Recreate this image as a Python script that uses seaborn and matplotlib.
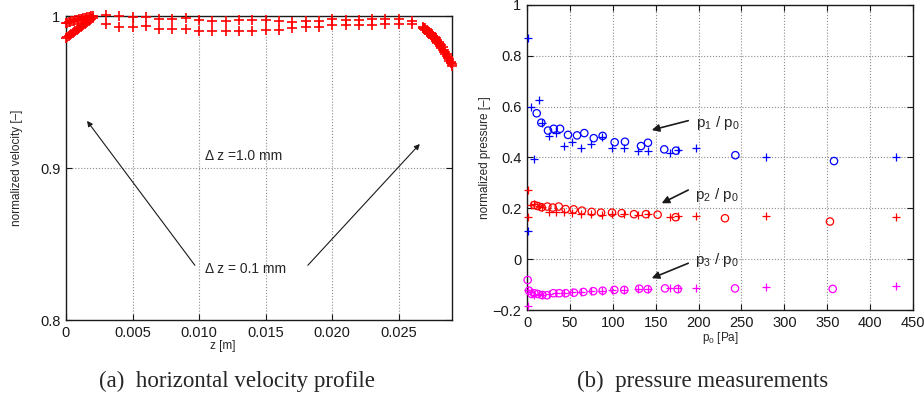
import matplotlib
matplotlib.use("Agg")
import matplotlib.pyplot as plt
import seaborn as sns

sns.set_theme(style="ticks")
plt.rcParams['font.family'] = ['Liberation Sans', 'DejaVu Sans']
plt.rcParams['mathtext.fontset'] = 'custom'
plt.rcParams['mathtext.rm'] = 'Liberation Sans'
plt.rcParams['mathtext.it'] = 'Liberation Sans:italic'

# -----------------------------
# (a) velocity profile data
# -----------------------------
z_coarse = [0.003, 0.004, 0.005, 0.006, 0.007, 0.008, 0.009, 0.010, 0.011, 0.012,
            0.013, 0.014, 0.015, 0.016, 0.017, 0.018, 0.019, 0.020, 0.021, 0.022,
            0.023, 0.024, 0.025, 0.026]
v_coarse_a = [1.0005, 1.0000, 0.9993, 0.9993, 0.9980, 0.9980, 0.9987, 0.9976, 0.9970, 0.9970,
              0.9976, 0.9972, 0.9976, 0.9965, 0.9958, 0.9965, 0.9970, 0.9980, 0.9976, 0.9976,
              0.9980, 0.9980, 0.9980, 0.9965]
v_coarse_b = [0.9949, 0.9928, 0.9926, 0.9932, 0.9917, 0.9917, 0.9917, 0.9904, 0.9904, 0.9904,
              0.9904, 0.9900, 0.9910, 0.9910, 0.9920, 0.9928, 0.9928, 0.9943, 0.9943, 0.9943,
              0.9943, 0.9950, 0.9950, 0.9950]

z_wall_left = [0.0000, 0.0001, 0.0002, 0.0003, 0.0004, 0.0005, 0.0006, 0.0007, 0.0008, 0.0009,
               0.0010, 0.0011, 0.0012, 0.0013, 0.0014, 0.0015, 0.0016, 0.0017, 0.0018, 0.0019,
               0.0020]
v_wall_left_a = [0.9955, 0.9957, 0.9959, 0.9962, 0.9964, 0.9967, 0.9969, 0.9971, 0.9973, 0.9976,
                 0.9978, 0.9980, 0.9982, 0.9985, 0.9987, 0.9989, 0.9991, 0.9993, 0.9996, 0.9998,
                 1.0000]
v_wall_left_b = [0.9858, 0.9864, 0.9871, 0.9877, 0.9884, 0.9891, 0.9897, 0.9903, 0.9910, 0.9917,
                 0.9923, 0.9929, 0.9936, 0.9942, 0.9949, 0.9955, 0.9961, 0.9968, 0.9974, 0.9980,
                 0.9986]

z_wall_right = [0.0268, 0.0269, 0.0270, 0.0271, 0.0272, 0.0273, 0.0274, 0.0275, 0.0276, 0.0277,
                0.0278, 0.0279, 0.0280, 0.0281, 0.0282, 0.0283, 0.0284, 0.0285, 0.0286, 0.0287,
                0.0288, 0.0289, 0.0290]
v_wall_right_a = [0.9930, 0.9924, 0.9918, 0.9911, 0.9904, 0.9897, 0.9889, 0.9880, 0.9871, 0.9862,
                  0.9852, 0.9842, 0.9831, 0.9819, 0.9806, 0.9793, 0.9779, 0.9764, 0.9749, 0.9733,
                  0.9716, 0.9699, 0.9681]
v_wall_right_b = [0.9918, 0.9912, 0.9905, 0.9898, 0.9890, 0.9882, 0.9874, 0.9865, 0.9856, 0.9846,
                  0.9836, 0.9825, 0.9814, 0.9802, 0.9790, 0.9777, 0.9764, 0.9750, 0.9736, 0.9721,
                  0.9706, 0.9690, 0.9674]

z_ticks = [0, 0.005, 0.010, 0.015, 0.020, 0.025]
z_labels = ["0", "0.005", "0.010", "0.015", "0.020", "0.025"]

# -----------------------------
# (b) pressure data
# -----------------------------
p0_plus = [1.5, 1.5, 4.7, 8.5, 14.0, 17.9, 25.6, 34.2, 42.7, 52.0, 63.3, 75.0, 87.4, 99.5,
           113.5, 129.0, 141.5, 167.0, 176.4, 197.0, 278.6, 430.0]
p1_plus = [0.869, 0.111, 0.598, 0.393, 0.626, 0.537, 0.485, 0.498, 0.447, 0.460, 0.436, 0.453,
           0.480, 0.439, 0.439, 0.427, 0.427, 0.416, 0.430, 0.436, 0.403, 0.401]
p2_plus = [0.272, 0.167, 0.213, 0.216, 0.210, 0.204, 0.187, 0.184, 0.184, 0.181, 0.177, 0.177,
           0.174, 0.177, 0.179, 0.174, 0.177, 0.166, 0.171, 0.171, 0.169, 0.165]
p3_plus = [-0.121, -0.184, -0.128, -0.140, -0.138, -0.140, -0.138, -0.134, -0.134, -0.130,
           -0.128, -0.126, -0.124, -0.122, -0.120, -0.117, -0.117, -0.115, -0.115, -0.115,
           -0.110, -0.106]

p0_o_1 = [11.3, 16.7, 24.5, 31.1, 38.5, 47.8, 58.3, 66.8, 77.8, 88.2, 102.2, 114.2, 132.9,
          141.0, 160.0, 173.7, 242.9, 357.9]
p1_o = [0.574, 0.537, 0.506, 0.513, 0.513, 0.489, 0.487, 0.496, 0.476, 0.485, 0.460, 0.462,
        0.445, 0.458, 0.432, 0.427, 0.409, 0.386]

p0_o_2 = [8.5, 12.4, 17.1, 23.7, 30.0, 37.0, 45.0, 54.4, 64.1, 75.4, 86.3, 99.1, 110.4, 124.7,
          138.7, 152.3, 173.3, 230.8, 353.2]
p2_o = [0.213, 0.209, 0.204, 0.207, 0.203, 0.207, 0.197, 0.196, 0.191, 0.186, 0.183, 0.183,
        0.181, 0.177, 0.177, 0.175, 0.165, 0.161, 0.148]

p0_o_3 = [0.8, 2.3, 5.4, 8.5, 12.4, 17.8, 23.3, 30.7, 37.7, 45.1, 54.8, 65.7, 77.3, 88.2,
          101.8, 113.4, 130.9, 140.7, 160.9, 175.7, 242.5, 356.4]
p3_o = [-0.082, -0.124, -0.137, -0.134, -0.137, -0.141, -0.142, -0.134, -0.134, -0.134, -0.132,
        -0.129, -0.126, -0.124, -0.121, -0.121, -0.116, -0.118, -0.115, -0.118, -0.115, -0.117]

p_xticks = [0, 50, 100, 150, 200, 250, 300, 350, 400, 450]
p_yticks = [-0.2, 0, 0.2, 0.4, 0.6, 0.8, 1]


def matlab_axes(ax):
    ax.grid(True, linestyle=':', color='0.55', linewidth=0.8)
    for s in ax.spines.values():
        s.set_visible(True)
        s.set_color('k')
        s.set_linewidth(1.0)
    ax.tick_params(direction='in', top=True, right=True, length=4, width=0.8,
                   labelsize=10.5, colors='k', pad=4)


fig = plt.figure(figsize=(9.24, 4.0), dpi=100)

# -----------------------------
# (a) horizontal velocity profile
# -----------------------------
ax1 = fig.add_axes([66 / 924, 80 / 400, 386 / 924, 304 / 400])
for zz, vv in [(z_coarse, v_coarse_a), (z_coarse, v_coarse_b),
               (z_wall_left, v_wall_left_a), (z_wall_left, v_wall_left_b),
               (z_wall_right, v_wall_right_a), (z_wall_right, v_wall_right_b)]:
    sns.scatterplot(x=zz, y=vv, ax=ax1, marker='+', color='red', s=60, linewidth=1.2,
                    clip_on=False, zorder=3)
ax1.set_xlim(0, 0.029)
ax1.set_ylim(0.8, 1.0)
ax1.set_xticks(z_ticks)
ax1.set_xticklabels(z_labels)
ax1.set_yticks([0.8, 0.9, 1.0])
ax1.set_yticklabels(["0.8", "0.9", "1"])
matlab_axes(ax1)
ax1.set_xlabel("z [m]", fontsize=8.5)
ax1.set_ylabel("normalized velocity [–]", fontsize=8.5)
ax1.xaxis.set_label_coords(0.407, -0.065)
ax1.yaxis.set_label_coords(-0.112, 0.5)

ax1.text(0.01044, 0.908, "Δ z =1.0 mm", fontsize=10, va='center', ha='left')
ax1.text(0.01044, 0.8336, "Δ z = 0.1 mm", fontsize=10, va='center', ha='left')
arr = dict(arrowstyle='-|>', lw=0.8, color='k', mutation_scale=8, shrinkA=0, shrinkB=0)
ax1.annotate("", xy=(0.00158, 0.931), xytext=(0.00968, 0.836), arrowprops=arr)
ax1.annotate("", xy=(0.02658, 0.9158), xytext=(0.01817, 0.836), arrowprops=arr)

# -----------------------------
# (b) pressure measurements
# -----------------------------
ax2 = fig.add_axes([527 / 924, 90 / 400, 386 / 924, 305 / 400])
series = [(p0_plus, p1_plus, '+', 'blue'), (p0_o_1, p1_o, 'o', 'blue'),
          (p0_plus, p2_plus, '+', 'red'), (p0_o_2, p2_o, 'o', 'red'),
          (p0_plus, p3_plus, '+', 'magenta'), (p0_o_3, p3_o, 'o', 'magenta')]
for xx, yy, mk, col in series:
    if mk == 'o':
        sns.scatterplot(x=xx, y=yy, ax=ax2, marker='o', facecolor='none', edgecolor=col,
                        s=28, linewidth=0.9, clip_on=False, zorder=3)
    else:
        sns.scatterplot(x=xx, y=yy, ax=ax2, marker='+', color=col, s=30, linewidth=0.9,
                        clip_on=False, zorder=3)
ax2.set_xlim(0, 450)
ax2.set_ylim(-0.2, 1.0)
ax2.set_xticks(p_xticks)
ax2.set_yticks(p_yticks)
ax2.set_yticklabels(["−0.2", "0", "0.2", "0.4", "0.6", "0.8", "1"])
matlab_axes(ax2)
ax2.set_xlabel("p$_0$ [Pa]", fontsize=8.5)
ax2.set_ylabel("normalized pressure [–]", fontsize=8.5)
ax2.xaxis.set_label_coords(0.5, -0.065)
ax2.yaxis.set_label_coords(-0.093, 0.5)

arr2 = dict(arrowstyle='-|>', lw=1.2, color='k', mutation_scale=11, shrinkA=0, shrinkB=0)
ax2.text(197, 0.537, "p$_1$ / p$_0$", fontsize=11, va='center', ha='left')
ax2.annotate("", xy=(145.4, 0.508), xytext=(188, 0.545), arrowprops=arr2)
ax2.text(196, 0.2525, "p$_2$ / p$_0$", fontsize=11, va='center', ha='left')
ax2.annotate("", xy=(157, 0.220), xytext=(188, 0.272), arrowprops=arr2)
ax2.text(196, -0.003, "p$_3$ / p$_0$", fontsize=11, va='center', ha='left')
ax2.annotate("", xy=(145.4, -0.075), xytext=(188, -0.016), arrowprops=arr2)

# captions
fig.text(237 / 924, 0.046, "(a)  horizontal velocity profile", fontsize=16.5,
         family='Liberation Serif', ha='center', va='center')
fig.text(703 / 924, 0.046, "(b)  pressure measurements", fontsize=16.5,
         family='Liberation Serif', ha='center', va='center')

fig.savefig("out.png", dpi=100)
